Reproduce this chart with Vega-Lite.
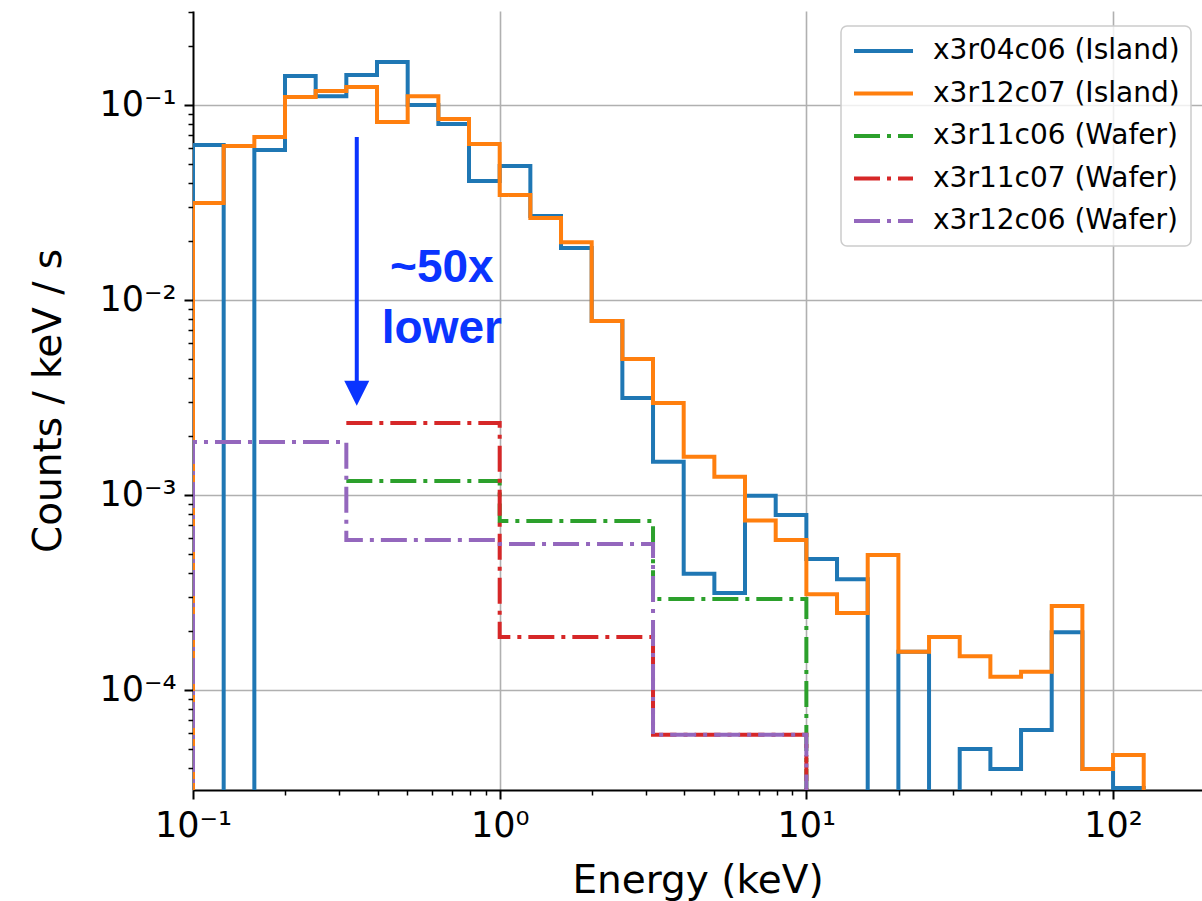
{
  "$schema": "https://vega.github.io/schema/vega-lite/v6.json",
  "width": 1009,
  "height": 779,
  "autosize": {"type": "none"},
  "padding": {"left": 193, "top": 11, "right": 0, "bottom": 111},
  "background": "white",
  "config": {
    "view": {"stroke": null},
    "font": "DejaVu Sans",
    "legend": {"strokeWidth": 1.5},
    "axis": {
      "domainColor": "black",
      "domainWidth": 2,
      "tickColor": "black",
      "labelColor": "black",
      "labelFont": "DejaVu Sans",
      "labelFontSize": 35,
      "labelOverlap": false,
      "labelFlush": false,
      "labelBound": false,
      "titleFont": "DejaVu Sans",
      "titleFontSize": 39,
      "titleFontWeight": "normal",
      "titleColor": "black",
      "gridColor": "#b0b0b0",
      "gridWidth": 1.6
    }
  },
  "datasets": {
    "spectra": [
      {"series": "x3r04c06 (Island)", "i": 0, "e": 0.1, "rate": 1e-6},
      {"series": "x3r04c06 (Island)", "i": 1, "e": 0.1, "rate": 0.0624},
      {"series": "x3r04c06 (Island)", "i": 2, "e": 0.1259, "rate": 1e-6},
      {"series": "x3r04c06 (Island)", "i": 3, "e": 0.1585, "rate": 0.0588},
      {"series": "x3r04c06 (Island)", "i": 4, "e": 0.1995, "rate": 0.141},
      {"series": "x3r04c06 (Island)", "i": 5, "e": 0.2512, "rate": 0.111},
      {"series": "x3r04c06 (Island)", "i": 6, "e": 0.3162, "rate": 0.1425},
      {"series": "x3r04c06 (Island)", "i": 7, "e": 0.3981, "rate": 0.166},
      {"series": "x3r04c06 (Island)", "i": 8, "e": 0.5012, "rate": 0.1},
      {"series": "x3r04c06 (Island)", "i": 9, "e": 0.631, "rate": 0.0799},
      {"series": "x3r04c06 (Island)", "i": 10, "e": 0.7943, "rate": 0.0407},
      {"series": "x3r04c06 (Island)", "i": 11, "e": 1.0, "rate": 0.0487},
      {"series": "x3r04c06 (Island)", "i": 12, "e": 1.2589, "rate": 0.027},
      {"series": "x3r04c06 (Island)", "i": 13, "e": 1.5849, "rate": 0.0185},
      {"series": "x3r04c06 (Island)", "i": 14, "e": 1.9953, "rate": 0.0078},
      {"series": "x3r04c06 (Island)", "i": 15, "e": 2.5119, "rate": 0.00314},
      {"series": "x3r04c06 (Island)", "i": 16, "e": 3.1623, "rate": 0.00148},
      {"series": "x3r04c06 (Island)", "i": 17, "e": 3.9811, "rate": 0.000394},
      {"series": "x3r04c06 (Island)", "i": 18, "e": 5.0119, "rate": 0.000314},
      {"series": "x3r04c06 (Island)", "i": 19, "e": 6.3096, "rate": 0.00099},
      {"series": "x3r04c06 (Island)", "i": 20, "e": 7.9433, "rate": 0.00079},
      {"series": "x3r04c06 (Island)", "i": 21, "e": 10.0, "rate": 0.00047},
      {"series": "x3r04c06 (Island)", "i": 22, "e": 12.589, "rate": 0.00037},
      {"series": "x3r04c06 (Island)", "i": 23, "e": 15.849, "rate": 1e-6},
      {"series": "x3r04c06 (Island)", "i": 24, "e": 19.953, "rate": 0.000157},
      {"series": "x3r04c06 (Island)", "i": 25, "e": 25.119, "rate": 1e-6},
      {"series": "x3r04c06 (Island)", "i": 26, "e": 31.623, "rate": 0.0000498},
      {"series": "x3r04c06 (Island)", "i": 27, "e": 39.811, "rate": 0.0000393},
      {"series": "x3r04c06 (Island)", "i": 28, "e": 50.119, "rate": 0.0000624},
      {"series": "x3r04c06 (Island)", "i": 29, "e": 63.096, "rate": 0.000198},
      {"series": "x3r04c06 (Island)", "i": 30, "e": 79.433, "rate": 0.0000393},
      {"series": "x3r04c06 (Island)", "i": 31, "e": 100.0, "rate": 0.0000314},
      {"series": "x3r04c06 (Island)", "i": 32, "e": 125.89, "rate": 0.0000314},
      {"series": "x3r04c06 (Island)", "i": 33, "e": 125.89, "rate": 1e-6},

      {"series": "x3r12c07 (Island)", "i": 0, "e": 0.1, "rate": 1e-6},
      {"series": "x3r12c07 (Island)", "i": 1, "e": 0.1, "rate": 0.0314},
      {"series": "x3r12c07 (Island)", "i": 2, "e": 0.1259, "rate": 0.0616},
      {"series": "x3r12c07 (Island)", "i": 3, "e": 0.1585, "rate": 0.0686},
      {"series": "x3r12c07 (Island)", "i": 4, "e": 0.1995, "rate": 0.11},
      {"series": "x3r12c07 (Island)", "i": 5, "e": 0.2512, "rate": 0.118},
      {"series": "x3r12c07 (Island)", "i": 6, "e": 0.3162, "rate": 0.1237},
      {"series": "x3r12c07 (Island)", "i": 7, "e": 0.3981, "rate": 0.0818},
      {"series": "x3r12c07 (Island)", "i": 8, "e": 0.5012, "rate": 0.111},
      {"series": "x3r12c07 (Island)", "i": 9, "e": 0.631, "rate": 0.0848},
      {"series": "x3r12c07 (Island)", "i": 10, "e": 0.7943, "rate": 0.063},
      {"series": "x3r12c07 (Island)", "i": 11, "e": 1.0, "rate": 0.0345},
      {"series": "x3r12c07 (Island)", "i": 12, "e": 1.2589, "rate": 0.0263},
      {"series": "x3r12c07 (Island)", "i": 13, "e": 1.5849, "rate": 0.0198},
      {"series": "x3r12c07 (Island)", "i": 14, "e": 1.9953, "rate": 0.0078},
      {"series": "x3r12c07 (Island)", "i": 15, "e": 2.5119, "rate": 0.00498},
      {"series": "x3r12c07 (Island)", "i": 16, "e": 3.1623, "rate": 0.00296},
      {"series": "x3r12c07 (Island)", "i": 17, "e": 3.9811, "rate": 0.00157},
      {"series": "x3r12c07 (Island)", "i": 18, "e": 5.0119, "rate": 0.00124},
      {"series": "x3r12c07 (Island)", "i": 19, "e": 6.3096, "rate": 0.00074},
      {"series": "x3r12c07 (Island)", "i": 20, "e": 7.9433, "rate": 0.000587},
      {"series": "x3r12c07 (Island)", "i": 21, "e": 10.0, "rate": 0.00031},
      {"series": "x3r12c07 (Island)", "i": 22, "e": 12.589, "rate": 0.000248},
      {"series": "x3r12c07 (Island)", "i": 23, "e": 15.849, "rate": 0.000492},
      {"series": "x3r12c07 (Island)", "i": 24, "e": 19.953, "rate": 0.000157},
      {"series": "x3r12c07 (Island)", "i": 25, "e": 25.119, "rate": 0.000187},
      {"series": "x3r12c07 (Island)", "i": 26, "e": 31.623, "rate": 0.000149},
      {"series": "x3r12c07 (Island)", "i": 27, "e": 39.811, "rate": 0.000117},
      {"series": "x3r12c07 (Island)", "i": 28, "e": 50.119, "rate": 0.000124},
      {"series": "x3r12c07 (Island)", "i": 29, "e": 63.096, "rate": 0.00027},
      {"series": "x3r12c07 (Island)", "i": 30, "e": 79.433, "rate": 0.0000393},
      {"series": "x3r12c07 (Island)", "i": 31, "e": 100.0, "rate": 0.0000464},
      {"series": "x3r12c07 (Island)", "i": 32, "e": 125.89, "rate": 0.0000464},
      {"series": "x3r12c07 (Island)", "i": 33, "e": 125.89, "rate": 1e-6},

      {"series": "x3r11c06 (Wafer)", "i": 1, "e": 0.3162, "rate": 0.00118},
      {"series": "x3r11c06 (Wafer)", "i": 2, "e": 1.0, "rate": 0.000736},
      {"series": "x3r11c06 (Wafer)", "i": 3, "e": 3.1623, "rate": 0.000293},
      {"series": "x3r11c06 (Wafer)", "i": 4, "e": 10.0, "rate": 0.000293},
      {"series": "x3r11c06 (Wafer)", "i": 5, "e": 10.0, "rate": 1e-6},

      {"series": "x3r11c07 (Wafer)", "i": 1, "e": 0.3162, "rate": 0.00234},
      {"series": "x3r11c07 (Wafer)", "i": 2, "e": 1.0, "rate": 0.000187},
      {"series": "x3r11c07 (Wafer)", "i": 3, "e": 3.1623, "rate": 0.0000589},
      {"series": "x3r11c07 (Wafer)", "i": 4, "e": 10.0, "rate": 0.0000589},
      {"series": "x3r11c07 (Wafer)", "i": 5, "e": 10.0, "rate": 1e-6},

      {"series": "x3r12c06 (Wafer)", "i": 0, "e": 0.1, "rate": 1e-6},
      {"series": "x3r12c06 (Wafer)", "i": 1, "e": 0.1, "rate": 0.00187},
      {"series": "x3r12c06 (Wafer)", "i": 2, "e": 0.3162, "rate": 0.000587},
      {"series": "x3r12c06 (Wafer)", "i": 3, "e": 1.0, "rate": 0.000561},
      {"series": "x3r12c06 (Wafer)", "i": 4, "e": 3.1623, "rate": 0.0000589},
      {"series": "x3r12c06 (Wafer)", "i": 5, "e": 10.0, "rate": 0.0000589},
      {"series": "x3r12c06 (Wafer)", "i": 6, "e": 10.0, "rate": 1e-6}
    ],
    "arrow": [
      {"e": 0.342, "rate": 0.0686, "rate2": 0.0036, "tip": 0.00332}
    ],
    "note": [
      {"e": 0.648, "rate": 0.01235, "label": "~50x"},
      {"e": 0.648, "rate": 0.00602, "label": "lower"}
    ]
  },
  "layer": [
    {
      "data": {"name": "spectra"},
      "mark": {"type": "line", "interpolate": "step-after", "clip": true, "strokeWidth": 4},
      "encoding": {
        "x": {
          "field": "e",
          "type": "quantitative",
          "scale": {"type": "log", "domain": [0.1, 195], "nice": false},
          "axis": {
            "title": "Energy (keV)",
            "values": [0.1, 0.2, 0.3, 0.4, 0.5, 0.6, 0.7, 0.8, 0.9, 1, 2, 3, 4, 5, 6, 7, 8, 9, 10, 20, 30, 40, 50, 60, 70, 80, 90, 100],
            "labelExpr": "datum.value == 0.1 ? '10⁻¹' : datum.value == 1 ? '10⁰' : datum.value == 10 ? '10¹' : datum.value == 100 ? '10²' : ''",
            "grid": true,
            "gridOpacity": {"condition": {"test": "datum.value == 1 || datum.value == 10 || datum.value == 100", "value": 1}, "value": 0},
            "tickSize": {"condition": {"test": "datum.value == 0.1 || datum.value == 1 || datum.value == 10 || datum.value == 100", "value": 9}, "value": 5},
            "tickWidth": {"condition": {"test": "datum.value == 0.1 || datum.value == 1 || datum.value == 10 || datum.value == 100", "value": 2}, "value": 1.5},
            "labelPadding": 9,
            "titlePadding": 18
          }
        },
        "y": {
          "field": "rate",
          "type": "quantitative",
          "scale": {"type": "log", "domain": [0.0000307, 0.3034], "nice": false},
          "axis": {
            "title": "Counts / keV / s",
            "values": [0.00004, 0.00005, 0.00006, 0.00007, 0.00008, 0.00009, 0.0001, 0.0002, 0.0003, 0.0004, 0.0005, 0.0006, 0.0007, 0.0008, 0.0009, 0.001, 0.002, 0.003, 0.004, 0.005, 0.006, 0.007, 0.008, 0.009, 0.01, 0.02, 0.03, 0.04, 0.05, 0.06, 0.07, 0.08, 0.09, 0.1, 0.2, 0.3],
            "labelExpr": "datum.value == 0.1 ? '10⁻¹' : datum.value == 0.01 ? '10⁻²' : datum.value == 0.001 ? '10⁻³' : datum.value == 0.0001 ? '10⁻⁴' : ''",
            "grid": true,
            "gridOpacity": {"condition": {"test": "datum.value == 0.1 || datum.value == 0.01 || datum.value == 0.001 || datum.value == 0.0001", "value": 1}, "value": 0},
            "tickSize": {"condition": {"test": "datum.value == 0.1 || datum.value == 0.01 || datum.value == 0.001 || datum.value == 0.0001", "value": 9}, "value": 5},
            "tickWidth": {"condition": {"test": "datum.value == 0.1 || datum.value == 0.01 || datum.value == 0.001 || datum.value == 0.0001", "value": 2}, "value": 1.5},
            "labelPadding": 8,
            "titlePadding": 30
          }
        },
        "color": {
          "field": "series",
          "type": "nominal",
          "scale": {
            "domain": ["x3r04c06 (Island)", "x3r12c07 (Island)", "x3r11c06 (Wafer)", "x3r11c07 (Wafer)", "x3r12c06 (Wafer)"],
            "range": ["#1f77b4", "#ff7f0e", "#2ca02c", "#d62728", "#9467bd"]
          },
          "legend": {
            "title": null,
            "orient": "none",
            "legendX": 648,
            "legendY": 15,
            "symbolType": "stroke",
            "symbolSize": 3481,
            "symbolStrokeWidth": 4,
            "clipHeight": 28,
            "rowPadding": 14.5,
            "labelFont": "DejaVu Sans",
            "labelFontSize": 28,
            "labelColor": "black",
            "labelOffset": 18,
            "labelLimit": 500,
            "padding": 11,
            "fillColor": "rgba(255,255,255,0.8)",
            "strokeColor": "#cccccc",
            "cornerRadius": 6
          }
        },
        "strokeDash": {
          "field": "series",
          "type": "nominal",
          "scale": {
            "domain": ["x3r04c06 (Island)", "x3r12c07 (Island)", "x3r11c06 (Wafer)", "x3r11c07 (Wafer)", "x3r12c06 (Wafer)"],
            "range": [[1, 0], [1, 0], [26, 7, 4, 7], [26, 7, 4, 7], [26, 7, 4, 7]]
          }
        },
        "order": {"field": "i", "type": "quantitative"}
      }
    },
    {
      "mark": {"type": "rule", "color": "black", "strokeWidth": 2},
      "encoding": {"y": {"datum": 0.3034, "type": "quantitative"}}
    },
    {
      "data": {"name": "arrow"},
      "mark": {"type": "rule", "color": "#0a34ff", "strokeWidth": 4},
      "encoding": {
        "x": {"field": "e", "type": "quantitative"},
        "y": {"field": "rate", "type": "quantitative"},
        "y2": {"field": "rate2"}
      }
    },
    {
      "data": {"name": "arrow"},
      "mark": {"type": "point", "shape": "M-1,-1L1,-1L0,1Z", "size": 625, "filled": true, "color": "#0a34ff", "opacity": 1},
      "encoding": {
        "x": {"field": "e", "type": "quantitative"},
        "y": {"field": "tip", "type": "quantitative"}
      }
    },
    {
      "data": {"name": "note"},
      "mark": {"type": "text", "font": "Liberation Sans", "fontWeight": "bold", "fontSize": 46, "color": "#0a34ff", "align": "center", "baseline": "alphabetic"},
      "encoding": {
        "x": {"field": "e", "type": "quantitative"},
        "y": {"field": "rate", "type": "quantitative"},
        "text": {"field": "label"}
      }
    }
  ]
}
